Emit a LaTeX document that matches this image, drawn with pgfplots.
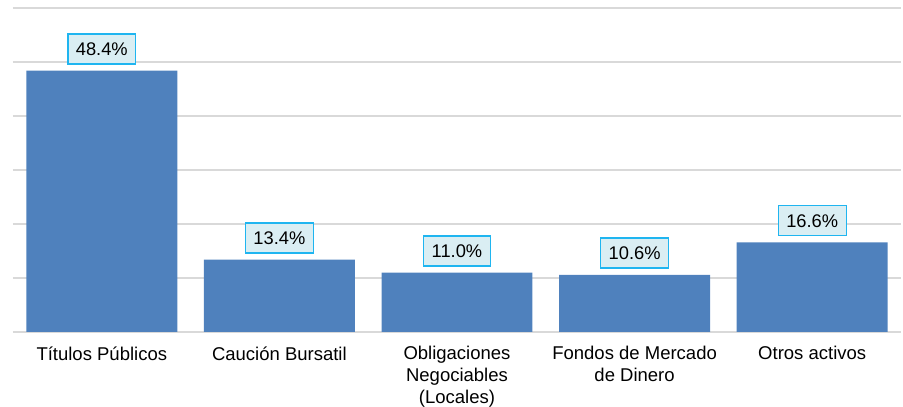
\documentclass[border=0pt]{standalone}
\usepackage{pgfplots}
\pgfplotsset{compat=1.18}
\usepackage{fontspec}
\setmainfont{Liberation Sans}
\definecolor{barblue}{HTML}{4F81BD}
\definecolor{lblfill}{HTML}{DAEEF3}
\definecolor{lblborder}{HTML}{1FB5F0}
\definecolor{gridgray}{HTML}{D9D9D9}
\begin{document}
\begin{tikzpicture}
\begin{axis}[
  scale only axis,
  width=888bp, height=324bp,
  xmin=-0.5, xmax=4.5, ymin=0, ymax=60,
  ytick={0,10,...,60}, yticklabels={},
  ymajorgrids, grid style={gridgray, line width=1.3bp},
  major tick length=0pt,
  axis line style={draw=none},
  xtick={0,1,2,3,4},
  xticklabels={T\'itulos P\'ublicos, Cauci\'on Bursatil, Obligaciones\\Negociables\\(Locales), Fondos de Mercado\\de Dinero, Otros activos},
  x tick label style={align=center, font=\fontsize{18.5bp}{21.6bp}\selectfont, text depth=0pt, yshift=-11bp},
  ybar, bar width=0.85, bar shift=0pt,
  /pgf/number format/assume math mode=true,
  nodes near coords={\pgfmathprintnumber[fixed, fixed zerofill, precision=1, assume math mode=true]{\pgfplotspointmeta}\%},
  nodes near coords style={font=\fontsize{18.3bp}{21bp}\selectfont, fill=lblfill, draw=lblborder, line width=1.3bp, inner xsep=8bp, inner ysep=0pt, minimum height=30bp, anchor=south, yshift=6bp, text=black},
  clip=false,
]
\addplot[fill=barblue, draw=none] coordinates {(0,48.4) (1,13.4) (2,11.0) (3,10.6) (4,16.6)};
\end{axis}
\path (current axis.south west) ++(-13bp,-73bp) coordinate (bl);
\path (current axis.north east) ++(2bp,8bp) coordinate (tr);
\useasboundingbox (bl) rectangle (tr);
\end{tikzpicture}
\end{document}
